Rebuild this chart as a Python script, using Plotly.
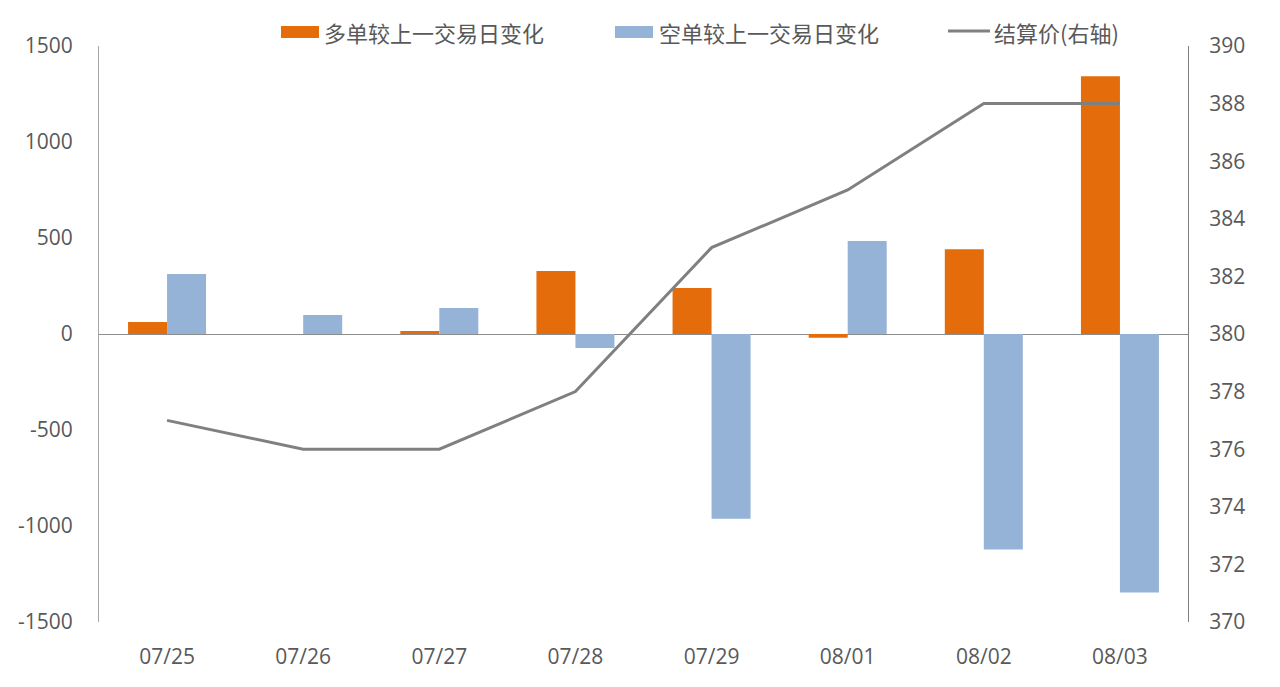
import plotly.graph_objects as go

dates = ["07/25", "07/26", "07/27", "07/28", "07/29", "08/01", "08/02", "08/03"]
long_chg = [62, 0, 16, 328, 239, -20, 442, 1342]
short_chg = [312, 99, 135, -73, -962, 484, -1123, -1347]
settle = [377, 376, 376, 378, 383, 385, 388, 388]

left_ticks = [-1500, -1000, -500, 0, 500, 1000, 1500]
left_labels = ["-1500", "-1000", "-500", "0", "500", "1000", "1500"]
right_ticks = [370, 372, 374, 376, 378, 380, 382, 384, 386, 388, 390]

names = ["多单较上一交易日变化", "空单较上一交易日变化", "结算价(右轴)"]
colors = ["#E46C0A", "#95B3D7", "#808080"]

cjk = "Noto Sans CJK SC, Noto Sans, sans-serif"
num_font = "Open Sans, Noto Sans, sans-serif"
grey = "#595959"

W, H = 1280, 687
OFF = 8  # page body margin
# target plot area in screen pixels
SX0, SX1, SY0, SY1 = 99, 1188, 46, 622
L, T = SX0 - OFF, SY0 - OFF
R, B = W + OFF - SX1, H + OFF - SY1
pw, ph = SX1 - SX0, SY1 - SY0

def px_x(x):
    return (x - SX0) / pw

def px_y(y):
    return (SY1 - y) / ph

fig = go.Figure()
fig.add_trace(go.Bar(x=dates, y=long_chg, name=names[0],
                     marker=dict(color=colors[0], line=dict(width=0))))
fig.add_trace(go.Bar(x=dates, y=short_chg, name=names[1],
                     marker=dict(color=colors[1], line=dict(width=0))))
fig.add_trace(go.Scatter(x=dates, y=settle, name=names[2], yaxis="y2",
                         mode="lines", line=dict(color=colors[2], width=3)))

# manual legend (wide swatches like the reference)
legend_items = [
    (281, 319, 322, "rect"),
    (615, 653, 657, "rect"),
    (948, 990, 992, "line"),
]
shapes = []
annotations = []
ly = 32
for (x0, x1, tx, kind), name, col in zip(legend_items, names, colors):
    if kind == "rect":
        shapes.append(dict(type="rect", xref="paper", yref="paper",
                           x0=px_x(x0), x1=px_x(x1), y0=px_y(ly + 6), y1=px_y(ly - 6),
                           fillcolor=col, line=dict(width=0)))
    else:
        shapes.append(dict(type="line", xref="paper", yref="paper",
                           x0=px_x(x0), x1=px_x(x1), y0=px_y(ly - 1), y1=px_y(ly - 1),
                           line=dict(color=col, width=3)))
    annotations.append(dict(text=name, xref="paper", yref="paper",
                            x=px_x(tx), y=px_y(ly), xanchor="left", yanchor="middle",
                            showarrow=False, font=dict(family=cjk, size=22, color=grey)))

fig.update_layout(
    width=W, height=H,
    paper_bgcolor="white", plot_bgcolor="white",
    margin=dict(l=L, r=R, t=T, b=B, autoexpand=False),
    barmode="group", bargap=0.427, bargroupgap=0,
    showlegend=False,
    font=dict(family=num_font, size=21, color=grey),
    shapes=shapes, annotations=annotations,
    xaxis=dict(type="category", showgrid=False, showline=False, ticks="",
               tickfont=dict(family=num_font, size=21, color=grey),
               ticklabelstandoff=20),
    yaxis=dict(range=[-1500, 1500], tickvals=left_ticks, ticktext=left_labels,
               showgrid=False, showline=True,
               linecolor="#A6A6A6", linewidth=1, zeroline=True, zerolinecolor="#8C8C8C",
               zerolinewidth=1, ticks="", tickfont=dict(family=num_font, size=21, color=grey),
               ticklabelstandoff=21),
    yaxis2=dict(range=[370, 390], tickvals=right_ticks, overlaying="y", side="right",
                showgrid=False, showline=True, linecolor="#808080", linewidth=1,
                zeroline=False, ticks="", tickfont=dict(family=num_font, size=21, color=grey),
                ticklabelstandoff=16),
)

fig.write_html("out.html")
